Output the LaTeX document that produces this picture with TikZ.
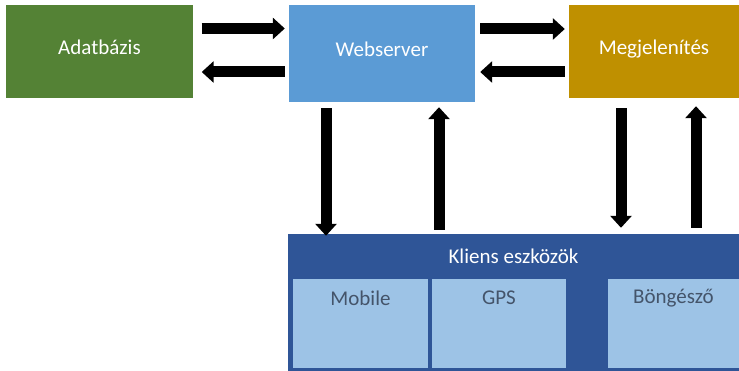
\documentclass[tikz,border=0pt]{standalone}
\usepackage{fontspec}
\setmainfont{Carlito}
\usetikzlibrary{arrows.meta}
\definecolor{cgreen}{HTML}{548235}
\definecolor{cblue}{HTML}{5B9BD5}
\definecolor{cgold}{HTML}{BF9000}
\definecolor{cdark}{HTML}{2F5597}
\definecolor{clight}{HTML}{9DC3E6}
\definecolor{ctext}{HTML}{44546A}
\tikzset{
  topbox/.style={draw=none, inner sep=0pt, text=white, font=\fontsize{21}{24}\selectfont,
    text height=13.5pt, text depth=7pt},
  innerbox/.style={fill=clight, draw=none, inner sep=0pt, minimum height=89pt},
  bigarrow/.style={line width=11pt, -{Triangle[width=21pt,length=12pt]}},
  lbl/.style={font=\fontsize{21}{24}\selectfont, inner sep=0pt}
}
\begin{document}
\begin{tikzpicture}[x=1pt,y=-1pt]
\useasboundingbox (0,0) rectangle (739,371);
\node[topbox, fill=cgreen, minimum width=187pt, minimum height=93pt] (ada) at (99.5,51.5) {Adatbázis};
\node[topbox, fill=cblue, minimum width=186pt, minimum height=97pt] (web) at (382,53.5) {Webserver};
\node[topbox, fill=cgold, minimum width=170pt, minimum height=93pt] (meg) at (654,51.5) {Megjelenítés};
\node[fill=cdark, draw=none, inner sep=0pt, minimum width=451pt, minimum height=137pt] (kli) at (513.5,302.5) {};
\node[lbl, text=white] (klt) at ([yshift=-22pt]kli.north) {Kliens eszközök};
\node[innerbox, minimum width=135pt] (mob) at (360.5,323.5) {};
\node[innerbox, minimum width=134pt] (gps) at (499,323.5) {};
\node[innerbox, minimum width=131pt] (bon) at (673.5,323.5) {};
\node[lbl, text=ctext] (mobt) at ([yshift=-19pt]mob.north) {Mobile};
\node[lbl, text=ctext] (gpst) at ([yshift=-19pt]gps.north) {GPS};
\node[lbl, text=ctext] (bont) at ([yshift=-19pt]bon.north) {Böngésző};
% horizontal arrows
\draw[bigarrow] ([xshift=8.5pt,yshift=23pt]ada.east) -- ([xshift=-4pt,yshift=25pt]web.west);
\draw[bigarrow] ([xshift=-4pt,yshift=-18.5pt]web.west) -- ([xshift=8.5pt,yshift=-20.5pt]ada.east);
\draw[bigarrow] ([xshift=5pt,yshift=24.5pt]web.east) -- ([xshift=-4pt,yshift=22.5pt]meg.west);
\draw[bigarrow] ([xshift=-4pt,yshift=-20.5pt]meg.west) -- ([xshift=5pt,yshift=-18.5pt]web.east);
% vertical arrows
\draw[bigarrow] ([xshift=-56pt,yshift=-6pt]web.south) -- ([xshift=-187.5pt,yshift=-2pt]kli.north);
\draw[bigarrow] ([xshift=-74.5pt,yshift=4pt]kli.north) -- ([xshift=57pt,yshift=-5pt]web.south);
\draw[bigarrow] ([xshift=-33pt,yshift=-10pt]meg.south) -- ([xshift=107.5pt,yshift=6pt]kli.north);
\draw[bigarrow] ([xshift=182.5pt,yshift=6pt]kli.north) -- ([xshift=42pt,yshift=-8pt]meg.south);
\end{tikzpicture}
\end{document}
